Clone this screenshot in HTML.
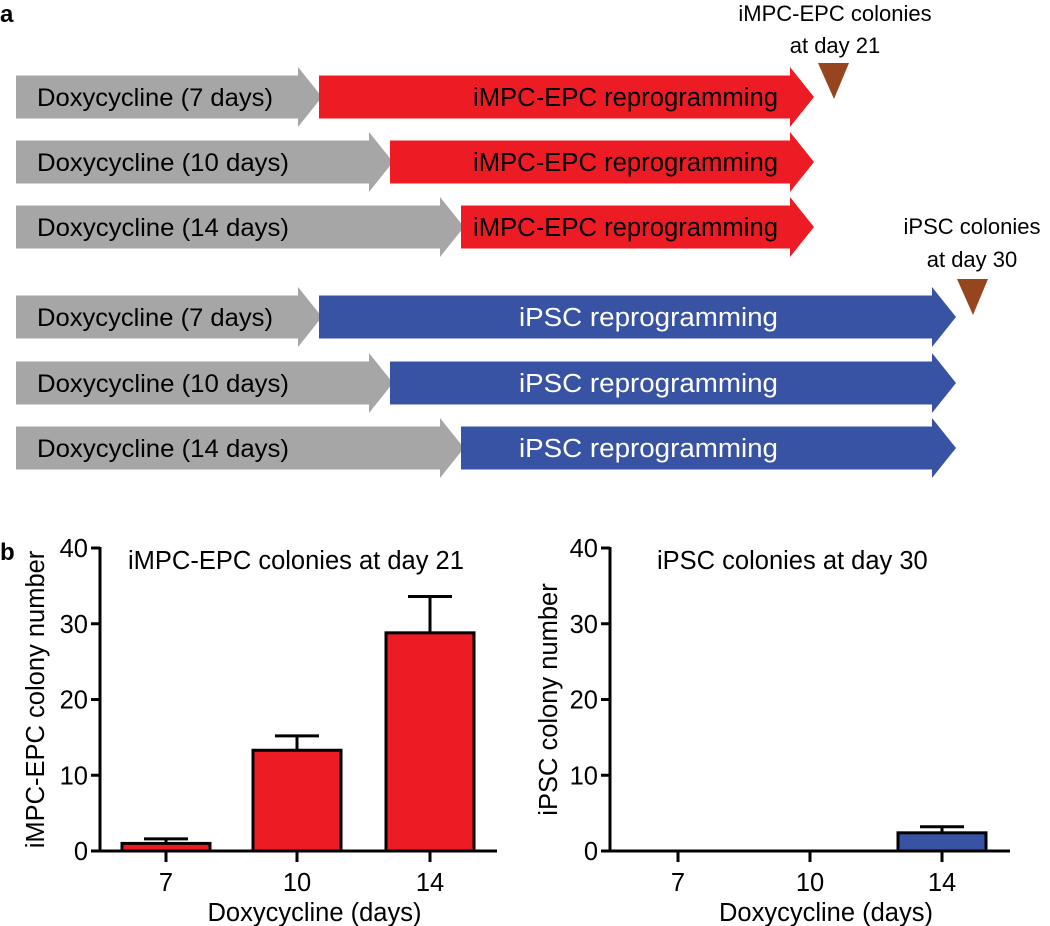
<!DOCTYPE html>
<html><head><meta charset="utf-8"><style>
body{margin:0;background:#fff}
svg{display:block;font-family:"Liberation Sans",Arial,sans-serif}
</style></head><body>
<svg width="1050" height="926" viewBox="0 0 1050 926">
<text x="0" y="22" font-size="24" font-weight="bold">a</text>
<g id="arrows"></g>
<g font-size="22" text-anchor="middle">
<text x="835" y="21">iMPC-EPC colonies</text>
<text x="835" y="53">at day 21</text>
<polygon points="818,63 849,63 834,99" fill="#96451f"/>
<text x="972" y="234">iPSC colonies</text>
<text x="972" y="267">at day 30</text>
<polygon points="957,279 988,279 973,315" fill="#96451f"/>
</g>
<text x="0" y="560" font-size="24" font-weight="bold">b</text>
<g id="chart1"></g>
<g id="chart2"></g>
</svg>
<script>
const NS="http://www.w3.org/2000/svg";
function mk(p,tag,attrs,txt){const e=document.createElementNS(NS,tag);for(const k in attrs)e.setAttribute(k,attrs[k]);if(txt!==undefined)e.textContent=txt;p.appendChild(e);return e;}
const rowsY=[97,162,227,317,383,448];
const grayEnd=[298,369,440,298,369,440];
const colEnd=[790,790,790,932,932,932];
const colors=["#ed1c24","#ed1c24","#ed1c24","#3953a4","#3953a4","#3953a4"];
const grayLabels=["Doxycycline (7 days)","Doxycycline (10 days)","Doxycycline (14 days)","Doxycycline (7 days)","Doxycycline (10 days)","Doxycycline (14 days)"];
const colLabels=["iMPC-EPC reprogramming","iMPC-EPC reprogramming","iMPC-EPC reprogramming","iPSC reprogramming","iPSC reprogramming","iPSC reprogramming"];
const A=document.getElementById('arrows');
function arrow(x0,x1,cy,fill){const h=21.5,H=30,t=x1+24;
return mk(A,'polygon',{points:`${x0},${cy-h} ${x1},${cy-h} ${x1},${cy-H} ${t},${cy} ${x1},${cy+H} ${x1},${cy+h} ${x0},${cy+h}`,fill:fill});}
rowsY.forEach((cy,i)=>{
 const g=arrow(16,grayEnd[i],cy,"#a6a6a6");
 
 
 const c=arrow(grayEnd[i]+21,colEnd[i],cy,colors[i]);
 
 
 const gl=grayLabels[i].length>20?252:236;
 mk(A,'text',{x:37,y:cy+9,'font-size':25,fill:'#000',textLength:gl,lengthAdjust:'spacingAndGlyphs'},grayLabels[i]);
 const isRed=i<3;
 const tl=isRed?305:259;
 mk(A,'text',{x:778-tl,y:cy+9,'font-size':25.5,fill:isRed?'#000':'#fff',textLength:tl,lengthAdjust:'spacingAndGlyphs'},colLabels[i]);
});
const categories=["7","10","14"];
const epcValues=[1.0,13.3,28.8];
const epcErrors=[0.6,1.9,4.8];
const ipscValues=[0,0,2.4];
const ipscErrors=[0,0,0.8];
const yTicks=[0,10,20,30,40];
function chart(id,ax,axEnd,centers,vals,errs,fill,title,titleX,ytitle,ytx){
 const G=document.getElementById(id);
 const y0=851,y1=548,ymax=40;
 const y=v=>y0-(v/ymax)*(y0-y1);
 const bw=88;
 vals.forEach((v,i)=>{
  if(v<=0)return;
  const cx=centers[i];
  const eb=mk(G,'path',{d:`M${cx} ${y(v)} V${y(v+errs[i])} M${cx-22} ${y(v+errs[i])} H${cx+22}`,stroke:'#000','stroke-width':3,fill:'none'});
  
  
  const r=mk(G,'rect',{x:cx-bw/2,y:y(v),width:bw,height:y0-y(v),fill:fill,stroke:'#000','stroke-width':3});
  
  
 });
 mk(G,'path',{d:`M${ax} ${y1-1} V${y0} M${ax-8} ${y0} H${axEnd}`,stroke:'#000','stroke-width':3,fill:'none'});
 yTicks.forEach(t=>{mk(G,'line',{x1:ax-9,x2:ax,y1:y(t),y2:y(t),stroke:'#000','stroke-width':3});
  mk(G,'text',{x:ax-12,y:y(t)+9,'font-size':25.5,'text-anchor':'end'},t);});
 categories.forEach((c,i)=>{mk(G,'line',{x1:centers[i],x2:centers[i],y1:y0,y2:y0+11,stroke:'#000','stroke-width':3});
  mk(G,'text',{x:centers[i],y:y0+40,'font-size':25.5,'text-anchor':'middle'},c);});
 mk(G,'text',{x:(ax+axEnd)/2+16,y:y0+70,'font-size':25.5,'text-anchor':'middle'},'Doxycycline (days)');
 mk(G,'text',{x:titleX,y:y1+21,'font-size':25.5},title);
 mk(G,'text',{x:0,y:0,'font-size':25.5,'text-anchor':'middle',transform:`translate(${ytx},${(y0+y1)/2}) rotate(-90)`},ytitle);
}
chart('chart1',100,497,[166,297,430],epcValues,epcErrors,'#ed1c24','iMPC-EPC colonies at day 21',128,'iMPC-EPC colony number',44);
chart('chart2',610,1010,[678,810,942],ipscValues,ipscErrors,'#3953a4','iPSC colonies at day 30',657,'iPSC colony number',557);
</script>
</body></html>
